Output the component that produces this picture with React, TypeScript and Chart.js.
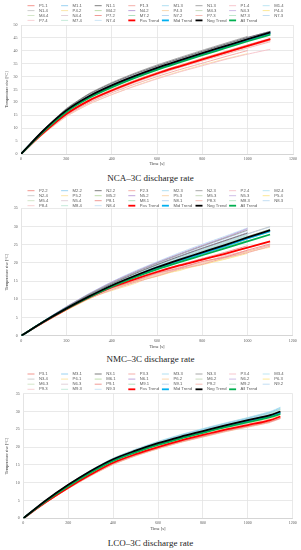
import React, { useEffect, useRef } from 'react';
import { Chart, registerables } from 'chart.js';
Chart.register(...registerables);

// ---------- DATA ----------
const TIMES_NCA = [0, 100, 200, 300, 400, 500, 600, 700, 800, 900, 1000, 1100];
const TIMES_NMC = [0, 100, 200, 300, 400, 500, 600, 700, 800, 900, 1000, 1100];
const TIMES_LCO = [0, 100, 200, 300, 400, 500, 600, 700, 800, 900, 1000, 1100, 1145];

const TREND_NAMES = ['Pos Trend', 'Mid Trend', 'Neg Trend', 'All Trend'];

const NCA_NAMES = ['P1.1', 'M1.1', 'N1.1', 'P1.3', 'M1.3', 'N1.3', 'P1.4', 'M1.4', 'N1.4', 'P4.2', 'M4.2', 'N4.2', 'P4.3', 'M4.3', 'N4.3', 'P4.4', 'M4.4', 'N4.4', 'P7.2', 'M7.2', 'N7.2', 'P7.3', 'M7.3', 'N7.3', 'P7.4', 'M7.4', 'N7.4'];
const NCA_VALUES = [
  [0, 8.2, 15.3, 20.5, 24.4, 27.9, 31.0, 33.8, 36.5, 39.1, 41.7, 44.2],
  [0, 9.1, 16.8, 22.3, 26.4, 30.0, 33.2, 36.1, 38.9, 41.6, 44.3, 46.9],
  [0, 9.4, 17.4, 23.2, 27.4, 31.0, 34.1, 37.0, 39.8, 42.5, 45.2, 47.5],
  [0, 8.0, 14.9, 19.9, 23.7, 27.0, 30.0, 32.7, 35.2, 37.7, 40.1],
  [0, 9.0, 16.7, 22.2, 26.3, 29.9, 33.1, 36.0, 38.8, 41.5, 44.2, 46.7],
  [0, 9.5, 17.6, 23.4, 27.7, 31.3, 34.5, 37.4, 40.2, 42.9, 45.6],
  [0, 7.9, 14.6, 19.4, 23.0, 26.2, 29.1, 31.8, 34.2, 36.6, 38.7, 40.6],
  [0, 9.2, 17.0, 22.6, 26.8, 30.4, 33.6, 36.5, 39.3, 42.0, 44.7, 47.2],
  [0, 9.3, 17.2, 22.9, 27.1, 30.7, 33.9, 36.8, 39.6, 42.3, 45.0],
  [0, 7.8, 14.5, 19.3, 23.0, 26.3, 29.3, 32.0, 34.5, 36.8, 38.9],
  [0, 8.9, 16.5, 21.9, 26.0, 29.6, 32.8, 35.7, 38.5, 41.2, 43.9, 46.5],
  [0, 9.2, 17.1, 22.8, 27.0, 30.6, 33.8, 36.7, 39.5, 42.2, 44.9, 47.4],
  [0, 8.3, 15.4, 20.6, 24.5, 28.0, 31.1, 33.9, 36.6, 39.2, 41.8],
  [0, 9.0, 16.6, 22.0, 26.1, 29.7, 32.9, 35.8, 38.6, 41.3, 44.0, 46.6],
  [0, 9.3, 17.3, 23.0, 27.2, 30.8, 34.0, 36.9, 39.7, 42.4, 45.1, 47.6],
  [0, 8.4, 15.6, 20.8, 24.8, 28.3, 31.4, 34.2, 36.9, 39.5, 42.0, 44.5],
  [0, 8.8, 16.4, 21.8, 25.9, 29.5, 32.7, 35.6, 38.4, 41.1, 43.8, 46.4],
  [0, 9.1, 16.9, 22.5, 26.7, 30.3, 33.5, 36.4, 39.2, 41.9, 44.6, 47.1],
  [0, 8.5, 15.8, 21.0, 25.0, 28.5, 31.6, 34.4, 37.1, 39.7, 42.3, 44.8],
  [0, 8.9, 16.4, 21.9, 26.0, 29.6, 32.8, 35.7, 38.5, 41.2, 43.9],
  [0, 9.2, 17.0, 22.7, 26.9, 30.5, 33.7, 36.6, 39.4, 42.1, 44.8, 47.3],
  [0, 8.2, 15.2, 20.3, 24.2, 27.6, 30.7, 33.5, 36.1, 38.6, 41.1, 43.5],
  [0, 9.0, 16.7, 22.2, 26.3, 29.9, 33.1, 36.0, 38.8, 41.5, 44.2, 46.8],
  [0, 9.4, 17.4, 23.1, 27.3, 30.9, 34.1, 37.0, 39.8, 42.5, 45.2],
  [0, 8.3, 15.5, 20.6, 24.5, 28.0, 31.1, 33.9, 36.5, 39.0, 41.5, 43.9],
  [0, 9.1, 16.8, 22.4, 26.5, 30.1, 33.3, 36.2, 39.0, 41.7, 44.4, 47.0],
  [0, 9.3, 17.2, 22.9, 27.1, 30.7, 33.9, 36.8, 39.6, 42.3, 45.0, 47.5],
];
const NCA_TRENDS = [
  [0, 8.3, 15.5, 20.7, 24.6, 28.1, 31.2, 34.0, 36.7, 39.3, 41.9, 44.5],
  [0, 9.0, 16.6, 22.1, 26.2, 29.8, 33.0, 35.9, 38.7, 41.4, 44.1, 46.8],
  [0, 9.2, 16.9, 22.4, 26.6, 30.2, 33.4, 36.3, 39.1, 41.8, 44.5, 47.1],
  [0, 8.8, 16.3, 21.7, 25.8, 29.4, 32.6, 35.5, 38.3, 41.0, 43.7, 46.3],
];

const NMC_NAMES = ['P2.2', 'M2.2', 'N2.2', 'P2.3', 'M2.3', 'N2.3', 'P2.4', 'M2.4', 'N2.4', 'P5.2', 'M5.2', 'N5.2', 'P5.3', 'M5.3', 'N5.3', 'P5.4', 'M5.4', 'N5.4', 'P8.1', 'M8.1', 'N8.1', 'P8.3', 'M8.3', 'N8.3', 'P8.4', 'M8.4', 'N8.4'];
const NMC_VALUES = [
  [0, 3.7, 7.2, 10.4, 13.1, 15.0, 17.2, 18.6, 20.4, 21.6, 23.5, 25.2],
  [0, 3.9, 7.6, 10.9, 13.9, 16.5, 18.9, 21.1, 23.1, 25.1, 27.1],
  [0, 4.0, 7.8, 11.2, 14.2, 17.0, 19.5, 21.8, 24.0, 26.1, 28.2],
  [0, 3.6, 7.1, 10.2, 12.6, 14.6, 16.4, 18.3, 19.6, 21.4, 22.8, 24.6],
  [0, 3.9, 7.5, 10.8, 13.8, 16.4, 18.8, 20.9, 22.9, 24.8, 26.8, 28.7],
  [0, 4.1, 7.9, 11.4, 14.5, 17.3, 19.9, 22.3, 24.6, 26.8, 29.0],
  [0, 3.8, 7.3, 10.5, 12.9, 15.3, 16.9, 18.9, 20.1, 22.0, 23.4],
  [0, 4.0, 7.7, 11.1, 14.1, 16.8, 19.2, 21.5, 23.6, 25.6, 27.7],
  [0, 4.0, 7.7, 11.1, 14.1, 16.8, 19.3, 21.6, 23.8, 25.9, 28.0, 30.0],
  [0, 3.7, 7.2, 10.3, 12.4, 14.3, 16.8, 17.9, 20.0, 21.1, 23.0, 24.3],
  [0, 3.9, 7.5, 10.7, 13.6, 16.1, 18.4, 20.5, 22.4, 24.3, 26.2],
  [0, 4.1, 8.0, 11.5, 14.7, 17.5, 20.1, 22.5, 24.8, 27.0, 29.4],
  [0, 3.8, 7.3, 10.6, 13.2, 15.5, 17.4, 19.2, 20.8, 22.3, 24.1, 25.8],
  [0, 3.9, 7.6, 10.9, 13.9, 16.6, 19.0, 21.2, 23.3, 25.3, 27.3, 29.3],
  [0, 4.0, 7.8, 11.3, 14.4, 17.1, 19.6, 21.9, 24.1, 26.2, 28.3],
  [0, 3.6, 7.0, 10.1, 12.8, 14.9, 16.3, 18.1, 19.5, 21.0, 22.6],
  [0, 3.8, 7.4, 10.6, 13.5, 16.0, 18.3, 20.4, 22.4, 24.3, 26.1],
  [0, 4.1, 7.9, 11.4, 14.6, 17.4, 20.0, 22.4, 24.7, 26.9, 29.1],
  [0, 3.8, 7.4, 10.6, 13.4, 15.7, 17.7, 19.5, 21.2, 22.9, 24.7],
  [0, 4.0, 7.7, 11.0, 14.0, 16.7, 19.1, 21.3, 23.4, 25.5, 27.6],
  [0, 4.0, 7.7, 11.0, 14.0, 16.7, 19.2, 21.5, 23.7, 25.8, 27.9, 29.9],
  [0, 3.7, 7.1, 10.3, 13.0, 14.7, 17.0, 18.4, 20.3, 21.5, 23.2, 24.9],
  [0, 3.9, 7.5, 10.8, 13.7, 16.3, 18.6, 20.7, 22.7, 24.6, 26.6, 28.5],
  [0, 4.1, 8.0, 11.6, 14.8, 17.7, 20.3, 22.8, 25.1, 27.3, 29.6],
  [0, 3.8, 7.2, 10.4, 12.7, 15.1, 16.6, 18.7, 19.8, 21.8, 23.1, 25.0],
  [0, 4.0, 7.8, 11.2, 14.3, 17.0, 19.5, 21.8, 24.0, 26.1, 28.2],
  [0, 4.0, 7.8, 11.2, 14.3, 17.1, 19.7, 22.1, 24.4, 26.6, 28.8],
];
const NMC_TRENDS = [
  [0, 3.8, 7.3, 10.5, 13.3, 15.5, 17.5, 19.3, 20.9, 22.5, 24.2, 25.9],
  [0, 3.9, 7.5, 10.7, 13.6, 16.2, 18.5, 20.6, 22.6, 24.6, 26.7, 28.7],
  [0, 3.9, 7.5, 10.8, 13.8, 16.4, 18.8, 20.9, 22.9, 24.9, 27.0, 29.0],
  [0, 3.9, 7.4, 10.6, 13.5, 16.0, 18.2, 20.2, 22.1, 24.0, 25.9, 27.8],
];

const LCO_NAMES = ['P3.1', 'M3.1', 'N3.1', 'P3.3', 'M3.3', 'N3.3', 'P3.4', 'M3.4', 'N3.4', 'P6.1', 'M6.1', 'N6.1', 'P6.2', 'M6.2', 'N6.2', 'P6.3', 'M6.3', 'N6.3', 'P9.1', 'M9.1', 'N9.1', 'P9.2', 'M9.2', 'N9.2', 'P9.3', 'M9.3', 'N9.3'];
const LCO_VALUES = [
  [0, 4.5, 8.5, 12.2, 15.4, 17.8, 19.8, 21.6, 23.1, 24.6, 25.9, 27.2, 28.1],
  [0, 5.0, 9.4, 13.3, 16.7, 19.2, 21.4, 23.3, 25.0, 26.6, 28.1, 29.8, 31.0],
  [0, 4.9, 9.3, 13.1, 16.4, 18.8, 20.9, 22.7, 24.3, 25.9, 27.3, 28.7, 29.6],
  [0, 4.4, 8.4, 12.0, 15.2, 17.6, 19.6, 21.4, 22.9, 24.4, 25.7, 27.0, 28.0],
  [0, 4.9, 9.3, 13.2, 16.6, 19.0, 21.2, 23.1, 24.8, 26.4, 27.9, 29.4, 30.5],
  [0, 5.0, 9.4, 13.3, 16.6, 19.0, 21.1, 22.9, 24.5, 26.1, 27.6, 29.0, 29.9],
  [0, 4.6, 8.7, 12.4, 15.6, 18.1, 20.1, 21.9, 23.5, 25.0, 26.4, 27.8],
  [0, 5.0, 9.5, 13.5, 16.9, 19.4, 21.6, 23.5, 25.2, 26.8, 28.3, 30.0, 31.2],
  [0, 4.8, 9.1, 12.9, 16.2, 18.6, 20.6, 22.4, 24.0, 25.5, 26.6],
  [0, 4.5, 8.6, 12.3, 15.5, 17.9, 19.9, 21.7, 23.3, 24.8, 26.1, 27.4, 28.3],
  [0, 4.9, 9.2, 13.0, 16.4, 18.8, 20.9, 22.8, 24.4, 26.0, 27.5, 29.0, 30.0],
  [0, 5.0, 9.4, 13.2, 16.5, 18.9, 21.0, 22.8, 24.4, 26.0, 27.4, 28.9],
  [0, 4.4, 8.3, 11.9, 15.1, 17.5, 19.5, 21.3, 22.8, 24.3, 25.6, 26.9],
  [0, 5.0, 9.4, 13.4, 16.8, 19.3, 21.5, 23.4, 25.1, 26.7, 28.2, 29.9],
  [0, 4.9, 9.2, 13.0, 16.3, 18.7, 20.8, 22.6, 24.2, 25.7, 27.1, 28.5, 29.4],
  [0, 4.6, 8.8, 12.5, 15.8, 18.2, 20.3, 22.1, 23.7, 25.2, 26.6, 28.0, 29.0],
  [0, 4.9, 9.3, 13.1, 16.5, 18.9, 21.0, 22.9, 24.6, 26.2, 27.7, 29.2, 30.2],
  [0, 5.0, 9.5, 13.4, 16.7, 19.1, 21.2, 23.0, 24.6, 26.2, 27.7, 29.1],
  [0, 4.5, 8.5, 12.1, 15.3, 17.7, 19.7, 21.5, 23.0, 24.5, 25.8, 27.2, 28.2],
  [0, 5.0, 9.5, 13.4, 16.8, 19.3, 21.4, 23.3, 25.0, 26.6, 28.2, 29.7, 30.7],
  [0, 4.9, 9.3, 13.1, 16.4, 18.8, 20.9, 22.7, 24.3, 25.8, 27.2, 28.6, 29.5],
  [0, 4.4, 8.4, 12.0, 15.2, 17.6, 19.6, 21.4, 23.0, 24.5, 25.9],
  [0, 4.9, 9.3, 13.2, 16.6, 19.1, 21.2, 23.1, 24.8, 26.4, 27.9, 29.5],
  [0, 5.0, 9.4, 13.3, 16.6, 19.0, 21.1, 22.9, 24.5, 26.1, 27.5, 29.0, 29.8],
  [0, 4.5, 8.6, 12.2, 15.4, 17.8, 19.8, 21.6, 23.2, 24.7, 26.0, 27.5, 28.5],
  [0, 5.0, 9.4, 13.3, 16.7, 19.2, 21.3, 23.2, 24.9, 26.5, 28.0, 29.6, 30.6],
  [0, 4.8, 9.2, 13.0, 16.3, 18.7, 20.7, 22.5, 24.1, 25.6, 27.0, 28.4],
];
const LCO_TRENDS = [
  [0, 4.5, 8.6, 12.3, 15.6, 18.0, 20.0, 21.8, 23.4, 24.9, 26.2, 27.6, 28.6],
  [0, 4.9, 9.2, 13.0, 16.3, 18.7, 20.8, 22.6, 24.2, 25.8, 27.3, 28.7, 29.7],
  [0, 5.0, 9.4, 13.3, 16.6, 19.0, 21.1, 22.9, 24.5, 26.1, 27.6, 29.0, 30.0],
  [0, 4.8, 9.0, 12.8, 16.1, 18.5, 20.6, 22.4, 24.0, 25.6, 27.0, 28.4, 29.3],
];

// ---------- STYLE ----------
const SERIES_COLORS = [
  '#f28b82', '#8ecdf0', '#707070', '#f4a6a0', '#a8dcf0', '#9e9e9e', '#f6c1c8', '#b5e3f2',
  '#c8c8c8', '#fbe3a0', '#b9d9a5', '#b89ad8', '#f9d3a5', '#c3d6b8', '#c9b6e4', '#fde58a',
  '#cfe3c3', '#e0cdd6', '#ef8f8a', '#a8dcb9', '#b3d3f0', '#f5b5ae', '#b5e4c6', '#bcdaf2',
  '#f7cdd0', '#bfe8d6', '#c6e2f5',
];
const TREND_COLORS = ['#ff0000', '#00b0f0', '#000000', '#00b050'];
const TREND_ORDER = [4, 3, 1, 2];

const gridLegend = {
  id: 'gridLegend',
  afterDraw(chart: any, _args: any, opts: any) {
    const { ctx } = chart;
    ctx.save();
    ctx.font = `${opts.fontSize}px ${opts.family}`;
    ctx.textBaseline = 'middle';
    ctx.textAlign = 'left';
    chart.data.datasets.forEach((d: any, i: number) => {
      const col = i % opts.cols;
      const row = Math.floor(i / opts.cols);
      const x = opts.x0 + col * opts.colW;
      const y = opts.y0 + row * opts.rowH;
      ctx.strokeStyle = d.borderColor;
      ctx.lineWidth = d.borderWidth;
      ctx.beginPath();
      ctx.moveTo(x, y);
      ctx.lineTo(x + opts.lineLen, y);
      ctx.stroke();
      ctx.fillStyle = opts.color;
      ctx.fillText(d.label, x + opts.lineLen + opts.gap, y);
    });
    ctx.restore();
  },
};

function buildDatasets(times: number[], names: string[], values: number[][], trends: number[][]) {
  const ds: any[] = names.map((name, i) => ({
    label: name,
    data: values[i].map((v, j) => ({ x: times[j], y: v })),
    borderColor: SERIES_COLORS[i],
    backgroundColor: SERIES_COLORS[i],
    borderWidth: 0.9,
    pointRadius: 0,
    tension: 0.2,
    order: 10,
  }));
  TREND_NAMES.forEach((name, k) => {
    ds.push({
      label: name,
      data: trends[k].map((v, j) => ({ x: times[j], y: v })),
      borderColor: TREND_COLORS[k],
      backgroundColor: TREND_COLORS[k],
      borderWidth: 1.8,
      pointRadius: 0,
      cubicInterpolationMode: 'monotone',
      order: TREND_ORDER[k],
    });
  });
  return ds;
}

const SERIF = "'Liberation Serif', 'DejaVu Serif', serif";
const plainTick = (v: any) => String(v);

type Spec = {
  top: number; height: number; padTop: number; xAxisH: number; yAxisW: number; padRight: number;
  yMax: number; legendY0: number; legendRowH: number; titleBottom: number;
  times: number[]; names: string[]; values: number[][]; trends: number[][];
};

function TempChart({ spec }: { spec: Spec }) {
  const ref = useRef<HTMLCanvasElement>(null);
  useEffect(() => {
    const chart = new Chart(ref.current as HTMLCanvasElement, {
      type: 'line',
      data: { datasets: buildDatasets(spec.times, spec.names, spec.values, spec.trends) },
      plugins: [gridLegend as any],
      options: {
        animation: false,
        responsive: false,
        maintainAspectRatio: false,
        devicePixelRatio: 1,
        layout: { padding: { top: spec.padTop, right: spec.padRight, left: 0, bottom: 0 } },
        plugins: {
          legend: { display: false },
          tooltip: { enabled: false },
          gridLegend: {
            cols: 8, x0: 27.5, colW: 33.6, y0: spec.legendY0, rowH: spec.legendRowH,
            lineLen: 7, gap: 4.5, fontSize: 4.2, family: "'Liberation Sans', sans-serif", color: '#595959',
          },
        } as any,
        scales: {
          x: {
            type: 'linear', min: 0, max: 1200,
            ticks: { stepSize: 200, padding: 2.5, color: '#595959', font: { size: 4, family: SERIF }, callback: plainTick },
            grid: { color: '#e3e3e3', lineWidth: 0.8, drawTicks: false },
            border: { color: '#d0d0d0', width: 0.8 },
            title: { display: true, text: 'Time [s]', color: '#404040', font: { size: 4.5, family: SERIF }, padding: { top: 0, bottom: spec.titleBottom } },
            afterFit: (s: any) => { s.height = spec.xAxisH; },
          },
          y: {
            min: 0, max: spec.yMax,
            ticks: { stepSize: 5, padding: 3.5, color: '#595959', font: { size: 4, family: SERIF }, callback: plainTick },
            grid: { color: '#e3e3e3', lineWidth: 0.8, drawTicks: false },
            border: { color: '#e3e3e3', width: 0.8 },
            title: { display: true, text: 'Temperature rise [°C]', color: '#404040', font: { size: 4.2, family: SERIF }, padding: { top: 4.2, bottom: 0 } },
            afterFit: (s: any) => { s.width = spec.yAxisW; },
          },
        },
      },
    } as any);
    return () => chart.destroy();
  }, []);
  return (
    <canvas ref={ref} width={301} height={spec.height}
      style={{ position: 'absolute', left: 0, top: spec.top, width: 301, height: spec.height }} />
  );
}

const SPECS: Spec[] = [
  { top: 0, height: 170, padTop: 25, xAxisH: 16, yAxisW: 21, padRight: 8, yMax: 50, legendY0: 5.7, legendRowH: 4.9, titleBottom: 3.3, times: TIMES_NCA, names: NCA_NAMES, values: NCA_VALUES, trends: NCA_TRENDS },
  { top: 183, height: 170, padTop: 25.3, xAxisH: 17.3, yAxisW: 21.3, padRight: 8.3, yMax: 35, legendY0: 7.7, legendRowH: 5.0, titleBottom: 3.3, times: TIMES_NMC, names: NMC_NAMES, values: NMC_VALUES, trends: NMC_TRENDS },
  { top: 366, height: 168, padTop: 27.7, xAxisH: 15.7, yAxisW: 23.3, padRight: 8.3, yMax: 35, legendY0: 8, legendRowH: 5.1, titleBottom: 2.8, times: TIMES_LCO, names: LCO_NAMES, values: LCO_VALUES, trends: LCO_TRENDS },
];
const CAPTIONS = ['NCA–3C discharge rate', 'NMC–3C discharge rate', 'LCO–3C discharge rate'];
const CAPTION_Y = [178.3, 359, 543];

export default function App() {
  return (
    <div style={{ position: 'absolute', left: 0, top: 0, width: 301, height: 550, background: '#fff', overflow: 'hidden' }}>
      {SPECS.map((s, i) => <TempChart key={i} spec={s} />)}
      {CAPTIONS.map((c, i) => (
        <div key={c} style={{ position: 'absolute', left: 0, width: 301, top: CAPTION_Y[i] - 5, height: 10, lineHeight: '10px', textAlign: 'center', fontFamily: SERIF, fontSize: 9, color: '#222' }}>{c}</div>
      ))}
    </div>
  );
}
